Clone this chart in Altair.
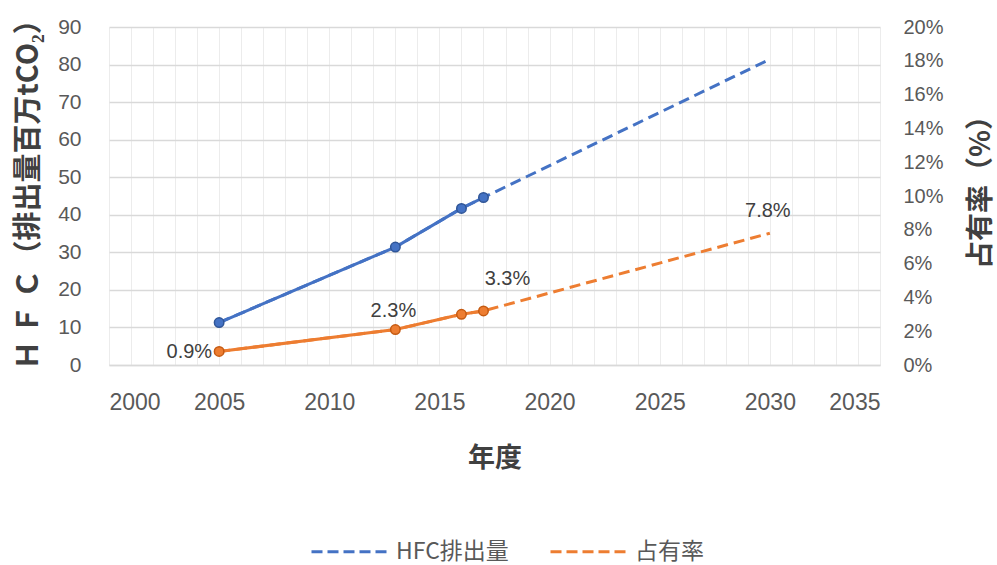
import altair as alt
import pandas as pd

# ---- data ----
years = [2005, 2013, 2016, 2017]
hfc = [11.3, 31.4, 41.7, 44.6]          # HFC emissions (million tCO2)
share = [0.8, 2.1, 3.0, 3.2]            # share (%)
proj_year = 2030
hfc_2030 = 81.4
share_2030 = 7.8
label_years = [2005, 2013, 2017, 2030]
label_values = [0.9, 2.3, 3.3, 7.8]
label_texts = ["0.9%", "2.3%", "3.3%", "7.8%"]
x_ticks = list(range(2000, 2036))
left_ticks = [0, 10, 20, 30, 40, 50, 60, 70, 80, 90]
right_ticks = [0, 2, 4, 6, 8, 10, 12, 14, 16, 18, 20]
series = ["HFC排出量", "占有率"]
colors = ["#4472C4", "#ED7D31"]

actual = pd.DataFrame({"year": years, "hfc": hfc, "share": share})
dashed = pd.DataFrame({"year": years + [proj_year],
                       "hfc": hfc + [hfc_2030],
                       "share": share + [share_2030]})
labels = pd.DataFrame({"year": label_years, "val": label_values, "txt": label_texts})

CJK = "Noto Sans CJK JP"
LAT = "Liberation Sans"

x_axis = alt.Axis(values=x_ticks,
                  labelExpr="datum.value % 5 === 0 ? '' + datum.value : ''",
                  title="年度", grid=True, ticks=False, domain=True,
                  domainColor="#d9d9d9", domainWidth=1.5,
                  gridColor="#ececec", labelFont=LAT, labelFontSize=23,
                  labelColor="#595959", labelPadding=26,
                  titleFont=CJK, titleFontSize=27, titleFontWeight="bold",
                  titleColor="#404040", titlePadding=31)
x_enc = alt.X("year:Q", scale=alt.Scale(domain=[2000, 2035], nice=False), axis=x_axis)

color_scale = alt.Scale(domain=series, range=colors)
legend = alt.Legend(title=None, orient="none", direction="horizontal",
                    legendX=201, legendY=483, symbolType="stroke",
                    symbolDash=[11, 5], symbolStrokeWidth=3, symbolSize=6400,
                    labelFont=CJK, labelFontSize=23, labelColor="#595959",
                    columnPadding=35, labelOffset=3, padding=0)

left_axis = alt.Axis(orient="left", values=left_ticks, title="Ｈ Ｆ Ｃ（排出量百万tCO₂）",
                     grid=True, gridColor="#d9d9d9", gridWidth=1.5, ticks=False, domain=False,
                     labelFont=LAT, labelFontSize=21, labelColor="#595959", labelPadding=28,
                     titleFont=CJK, titleFontSize=29, titleFontWeight="bold",
                     titleColor="#404040", titlePadding=14, titleY=160)
y_left = alt.Y("hfc:Q", scale=alt.Scale(domain=[0, 90], nice=False), axis=left_axis)

right_axis = alt.Axis(orient="right", values=right_ticks, title="占有率（%）",
                      labelExpr="datum.value + '%'", grid=False, ticks=False, domain=False,
                      labelFont=LAT, labelFontSize=20, labelColor="#595959", labelPadding=23,
                      titleFont=CJK, titleFontSize=28, titleFontWeight="bold",
                      titleColor="#404040", titlePadding=52, titleAngle=270, titleY=158)
y_right = alt.Y("share:Q", scale=alt.Scale(domain=[0, 20], nice=False), axis=right_axis)

blue_solid = alt.Chart(actual).mark_line(color=colors[0], strokeWidth=3).encode(x=x_enc, y=y_left)
blue_dash = alt.Chart(dashed).transform_calculate(s="'HFC排出量'").mark_line(
    strokeWidth=3, strokeDash=[11, 6]).encode(
    x=x_enc, y=y_left, color=alt.Color("s:N", scale=color_scale, legend=legend))
blue_pts = alt.Chart(actual).mark_point(filled=True, size=90, color=colors[0],
                                        stroke="#2F5597", strokeWidth=1.5, opacity=1).encode(x=x_enc, y=y_left)
left = alt.layer(blue_solid, blue_dash, blue_pts)

orange_solid = alt.Chart(actual).mark_line(color=colors[1], strokeWidth=3).encode(x=x_enc, y=y_right)
orange_dash = alt.Chart(dashed).transform_calculate(s="'占有率'").mark_line(
    strokeWidth=3, strokeDash=[11, 6]).encode(
    x=x_enc, y=y_right, color=alt.Color("s:N", scale=color_scale, legend=legend))
orange_pts = alt.Chart(actual).mark_point(filled=True, size=90, color=colors[1],
                                          stroke="#C55A11", strokeWidth=1.5, opacity=1).encode(x=x_enc, y=y_right)

y_lab = alt.Y("val:Q", scale=alt.Scale(domain=[0, 20], nice=False), axis=right_axis)
offsets = {"0.9%": (-7, 2, "right"), "2.3%": (-2, -15, "center"),
           "3.3%": (24, -30, "center"), "7.8%": (-2, -22, "center")}
text_layers = []
for t, (dx, dy, al) in offsets.items():
    text_layers.append(
        alt.Chart(labels).transform_filter(alt.datum.txt == t).mark_text(
            font=LAT, fontSize=20, color="#404040", dx=dx, dy=dy, align=al, baseline="middle"
        ).encode(x=x_enc, y=y_lab, text="txt:N"))

right = alt.layer(orange_solid, orange_dash, orange_pts, *text_layers)

chart = alt.layer(left, right).resolve_scale(y="independent").properties(
    width=771, height=338,
    autosize=alt.AutoSizeParams(type="none"),
    padding={"left": 109, "top": 27, "right": 117, "bottom": 200},
    background="white",
).configure_view(stroke=None)

chart.save("out.html", embed_options={"renderer": "svg", "actions": False})
